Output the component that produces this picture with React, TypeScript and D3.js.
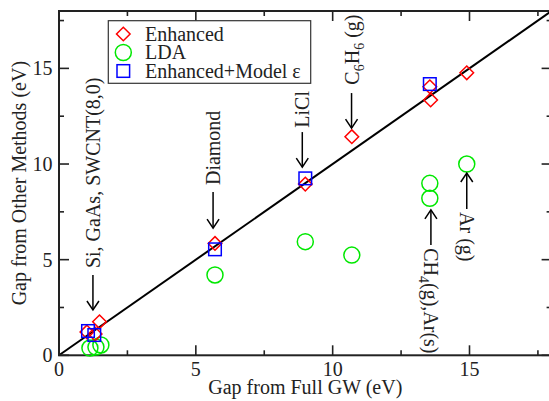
import React from "react";
import * as d3 from "d3";

const enhancedX = [1.02, 1.32, 1.48, 5.7, 9.0, 10.7, 13.55, 13.58, 14.9];
const enhancedY = [1.22, 1.11, 1.75, 5.85, 8.95, 11.43, 14.04, 13.35, 14.77];
const ldaX = [1.13, 1.35, 1.53, 5.7, 9.0, 10.7, 13.55, 13.55, 14.9];
const ldaY = [0.38, 0.43, 0.54, 4.2, 5.94, 5.24, 8.99, 8.21, 10.0];
const modelX = [1.06, 1.29, 5.7, 9.0, 13.55];
const modelY = [1.27, 1.06, 5.54, 9.25, 14.18];

const majorTicks = [0, 5, 10, 15];
const minorTicks = [2.5, 7.5, 12.5, 17.5];

const legendLabels = ["Enhanced", "LDA", "Enhanced+Model ε"];

type Seg = { t: string; sub?: boolean };
const annoX = [1.24, 5.63, 8.89, 10.69, 13.59, 14.9];
const annoTip = [2.37, 6.65, 9.84, 11.88, 7.6, 9.53];
const annoTail = [4.2, 8.54, 11.67, 13.71, 5.77, 7.65];
const annoText = [4.56, 8.9, 11.9, 14.15, 5.6, 7.49];
const annoUp = [true, true, true, true, false, false];
const annoLabels: Seg[][] = [
  [{ t: "Si, GaAs, SWCNT(8,0)" }],
  [{ t: "Diamond" }],
  [{ t: "LiCl" }],
  [{ t: "C" }, { t: "6", sub: true }, { t: "H" }, { t: "6", sub: true }, { t: " (g)" }],
  [{ t: "CH" }, { t: "4", sub: true }, { t: "(g),Ar(s)" }],
  [{ t: "Ar (g)" }],
];

const W = 549;
const H = 401;
const x0 = 59, x1 = 551.6, y0 = 355.3, y1 = 11;
const FONT = '"Liberation Serif", "DejaVu Serif", serif';
const FS = 20;
const TXT: React.CSSProperties = { fontFamily: FONT, fontSize: FS };

export default function App() {
  const x = d3.scaleLinear().domain([0, 18]).range([x0, x1]);
  const y = d3.scaleLinear().domain([0, 18]).range([y0, y1]);
  const line = d3.line<number>().x((d) => x(d)).y((d) => y(d));

  const diamond = (cx: number, cy: number, r = 6.8) =>
    `M${cx},${cy - r}L${cx + r},${cy}L${cx},${cy + r}L${cx - r},${cy}Z`;

  const ticks: React.ReactNode[] = [];
  const all = [...majorTicks.map((v) => [v, 10]), ...minorTicks.map((v) => [v, 5])];
  all.forEach(([v, len], i) => {
    ticks.push(<line key={"b" + i} x1={x(v)} x2={x(v)} y1={y0} y2={y0 - len} />);
    ticks.push(<line key={"t" + i} x1={x(v)} x2={x(v)} y1={y1} y2={y1 + len} />);
    ticks.push(<line key={"l" + i} x1={x0} x2={x0 + len} y1={y(v)} y2={y(v)} />);
    ticks.push(<line key={"r" + i} x1={x1} x2={x1 - len} y1={y(v)} y2={y(v)} />);
  });

  return (
    <svg width={W} height={H} style={{ position: "absolute", left: 0, top: 0 }}>
      <rect x={0} y={0} width={W} height={H} fill="white" />
      <path d={line([0, 18]) || ""} stroke="black" strokeWidth={2} fill="none" />
      <g stroke="#222" strokeWidth={1.6}>{ticks}</g>
      <rect x={x0} y={y1} width={x1 - x0} height={y0 - y1} fill="none" stroke="#222" strokeWidth={2} />
      <g fill="#222">
        {majorTicks.map((v) => (
          <text key={"xl" + v} x={x(v)} y={375.5} textAnchor="middle" style={TXT}>{v}</text>
        ))}
        {majorTicks.map((v) => (
          <text key={"yl" + v} x={52.5} y={y(v) + 7} textAnchor="end" style={TXT}>{v}</text>
        ))}
      </g>
      <text x={(x0 + x1) / 2} y={394} textAnchor="middle" style={TXT} fill="#222">
        Gap from Full GW (eV)
      </text>
      <text
        transform={`translate(26,${(y0 + y1) / 2}) rotate(-90)`}
        textAnchor="middle"
        style={TXT}
        fill="#222"
      >
        Gap from Other Methods (eV)
      </text>
      <g fill="none" strokeWidth={1.5}>
        {ldaX.map((v, i) => (
          <circle key={"c" + i} cx={x(v)} cy={y(ldaY[i])} r={8} stroke="#00e800" />
        ))}
        {enhancedX.map((v, i) => (
          <path key={"d" + i} d={diamond(x(v), y(enhancedY[i]))} stroke="red" />
        ))}
        {modelX.map((v, i) => (
          <rect key={"s" + i} x={x(v) - 6.3} y={y(modelY[i]) - 6.3} width={12.6} height={12.6} stroke="blue" />
        ))}
      </g>
      <g>
        {annoX.map((v, i) => {
          const ax = x(v);
          const tip = y(annoTip[i]);
          const tail = y(annoTail[i]);
          const dir = tip > tail ? 1 : -1;
          const head = `M${ax - 6},${tip - dir * 9}L${ax},${tip}L${ax + 6},${tip - dir * 9}`;
          const ty = y(annoText[i]);
          const rot = annoUp[i] ? -90 : 90;
          return (
            <g key={"a" + i}>
              <line x1={ax} x2={ax} y1={tail} y2={tip} stroke="black" strokeWidth={1.5} />
              <path d={head} stroke="black" strokeWidth={1.5} fill="none" />
              <text
                transform={`translate(${ax},${ty}) rotate(${rot})`}
                y={7}
                style={TXT}
                fill="#222"
              >
                {annoLabels[i].map((s, j) => {
                  const prev = j > 0 ? annoLabels[i][j - 1] : null;
                  let dy = 0;
                  if (s.sub) dy = 5;
                  else if (prev && prev.sub) dy = -5;
                  return (
                    <tspan key={j} dy={dy} style={{ fontFamily: FONT, fontSize: s.sub ? 14 : FS }}>
                      {s.t}
                    </tspan>
                  );
                })}
              </text>
            </g>
          );
        })}
      </g>
      <g>
        <rect x={108.3} y={20.7} width={202.4} height={62.6} fill="white" stroke="#333" strokeWidth={1.2} />
        {legendLabels.map((lab, i) => {
          const cy = 34 + i * 18.5;
          const cx = 123.3;
          return (
            <g key={"lg" + i}>
              {i === 0 && <path d={diamond(cx, cy)} fill="none" stroke="red" strokeWidth={1.5} />}
              {i === 1 && <circle cx={cx} cy={cy} r={8} fill="none" stroke="#00e800" strokeWidth={1.5} />}
              {i === 2 && (
                <rect x={cx - 6.3} y={cy - 6.3} width={12.6} height={12.6} fill="none" stroke="blue" strokeWidth={1.5} />
              )}
              <text x={145} y={cy + 6.5} style={TXT} fill="#222">{lab}</text>
            </g>
          );
        })}
      </g>
    </svg>
  );
}
